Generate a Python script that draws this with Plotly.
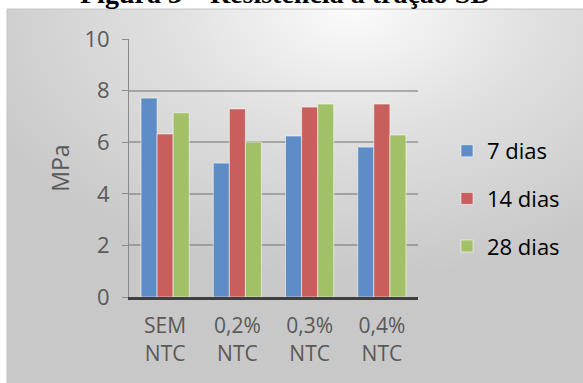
import base64
import plotly.graph_objects as go

# Tensile strength (MPa) by nanotube content and curing age
categories = ["SEM<br>NTC", "0,2%<br>NTC", "0,3%<br>NTC", "0,4%<br>NTC"]
dias_7 = [7.71, 5.19, 6.24, 5.81]
dias_14 = [6.32, 7.29, 7.36, 7.48]
dias_28 = [7.14, 6.01, 7.48, 6.28]
series_names = ["7 dias", "14 dias", "28 dias"]
y_ticks = [0, 2, 4, 6, 8, 10]

W, H = 583, 383
L, R, T, B = 129, 165, 39, 86
pw, ph = W - L - R, H - T - B


def px_x(px):
    return (px - L) / pw


def px_y(py):
    return (H - B - py) / ph


colors = ["#5d8cc7", "#c85f5c", "#a2c066"]
values = [dias_7, dias_14, dias_28]

fig = go.Figure()
for name, vals, col in zip(series_names, values, colors):
    fig.add_trace(go.Bar(
        x=categories, y=vals, name=name, legendgroup=name,
        marker=dict(color=col, line=dict(color="rgba(255,255,255,0.55)", width=1)),
    ))

# soft grey panel behind the chart
svg = (
    '<svg xmlns="http://www.w3.org/2000/svg" width="576" height="374" viewBox="0 0 576 374">'
    '<defs><radialGradient id="g" cx="0.6" cy="0.0" r="0.72" fx="0.6" fy="0.0">'
    '<stop offset="0" stop-color="#fbfbfb"/>'
    '<stop offset="0.45" stop-color="#e0e0e0"/>'
    '<stop offset="1" stop-color="#c8c8c8"/>'
    '</radialGradient></defs>'
    '<rect width="576" height="374" fill="url(#g)"/></svg>'
)
uri = "data:image/svg+xml;base64," + base64.b64encode(svg.encode()).decode()
fig.add_layout_image(dict(
    source=uri, xref="paper", yref="paper",
    x=px_x(7), y=px_y(9), sizex=px_x(W) - px_x(7), sizey=px_y(9) - px_y(H),
    xanchor="left", yanchor="top", sizing="stretch", layer="below",
))
fig.add_shape(type="line", xref="paper", yref="paper",
              x0=px_x(7), x1=px_x(W), y0=px_y(9), y1=px_y(9),
              line=dict(color="#c4c4c4", width=1))
fig.add_shape(type="line", xref="paper", yref="paper",
              x0=px_x(7), x1=px_x(7), y0=px_y(9), y1=px_y(H),
              line=dict(color="#c4c4c4", width=1))

fig.add_annotation(
    text="<b>Figura 3 – Resistência à tração SD</b>", xref="paper", yref="paper",
    x=px_x(285), y=px_y(-6), xanchor="center", yanchor="middle", showarrow=False,
    font=dict(family="Liberation Serif", size=28, color="#000000"),
)

fig.update_layout(
    width=W, height=H,
    margin=dict(l=L, r=R, t=T, b=B, pad=0),
    paper_bgcolor="white",
    plot_bgcolor="rgba(0,0,0,0)",
    barmode="group",
    bargap=0.333,
    bargroupgap=0,
    font=dict(family="Open Sans", color="#595959", size=20),
    showlegend=True,
    legend=dict(
        x=px_x(447), y=px_y(130), xanchor="left", yanchor="top",
        bgcolor="rgba(0,0,0,0)", font=dict(size=22, color="#000000"),
        tracegroupgap=16, itemwidth=30,
    ),
    xaxis=dict(
        showline=True, linecolor="#3f3f3f", linewidth=3,
        ticks="", showgrid=False, ticklabelstandoff=8,
        tickfont=dict(size=21, color="#595959"),
    ),
    yaxis=dict(
        range=[0, 10], tickvals=y_ticks, showgrid=True,
        gridcolor="rgba(120,120,120,0.55)", gridwidth=1.5,
        showline=True, linecolor="#8a8a8a", linewidth=1,
        ticks="outside", ticklen=6, tickcolor="#8a8a8a",
        ticklabelstandoff=8, zeroline=False,
        tickfont=dict(size=22, color="#595959"),
        title=dict(text="MPa", font=dict(size=23, color="#595959"), standoff=8),
    ),
)

fig.write_html("out.html")
